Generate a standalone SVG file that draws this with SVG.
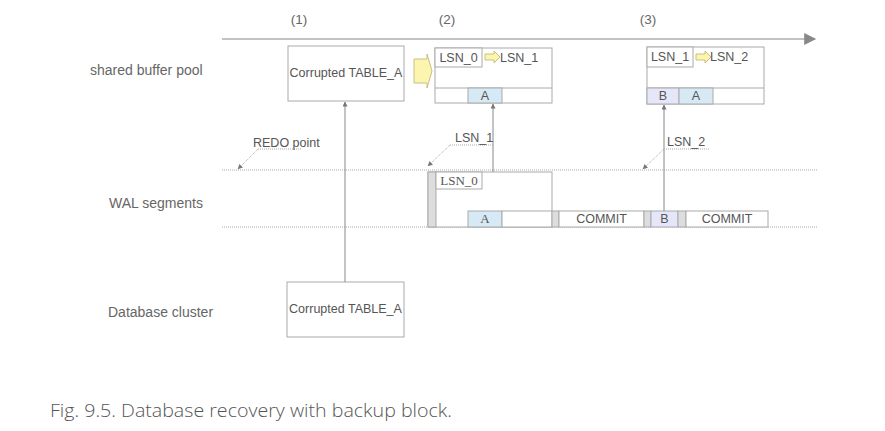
<svg xmlns="http://www.w3.org/2000/svg" width="885" height="431" viewBox="0 0 885 431">
<style>
text{font-family:"Liberation Sans",Arial,sans-serif;fill:#666}
.lbl{font-size:14px}
.num{font-size:13.5px}
.bt{font-size:12.5px;fill:#555}
.box{fill:#fff;stroke:#aaa;stroke-width:1}
.dot{stroke:#aaa;stroke-width:1;stroke-dasharray:1 1;fill:none}
.ln{stroke:#888;stroke-width:1;fill:none}
.bar{fill:#ddd;stroke:#aaa;stroke-width:1}
.blue{fill:#d6e9f5;stroke:#aaa}
.lav{fill:#e6e6fa;stroke:#aaa}
.serif{font-family:"Liberation Serif","Times New Roman",serif;font-size:13px;fill:#555}
.yarr{fill:#fbf5b0;stroke:#c8c080;stroke-width:1}
</style>
<defs>
<marker id="ah" viewBox="0 0 10 10" refX="9" refY="5" markerWidth="5" markerHeight="5" orient="auto-start-reverse">
<path d="M0,0 L10,5 L0,10 z" fill="#777"/>
</marker>
<marker id="ahBig" viewBox="0 0 10 10" refX="9" refY="5" markerWidth="16" markerHeight="12" markerUnits="userSpaceOnUse" orient="auto">
<path d="M0,0 L10,5 L0,10 z" fill="#888"/>
</marker>
</defs>

<g id="timeline">
<line x1="222" y1="39" x2="815" y2="39" stroke="#888" stroke-width="1.2" marker-end="url(#ahBig)"/>
<text class="num" x="299" y="24" text-anchor="middle">(1)</text>
<text class="num" x="447" y="24" text-anchor="middle">(2)</text>
<text class="num" x="648" y="24" text-anchor="middle">(3)</text>
</g>

<g id="row-labels">
<text class="lbl" x="90" y="75">shared buffer pool</text>
<text class="lbl" x="109" y="208">WAL segments</text>
<text class="lbl" x="108" y="317">Database cluster</text>
</g>

<g id="wal-lines">
<line class="dot" x1="222" y1="170" x2="817" y2="170"/>
<line class="dot" x1="222" y1="227" x2="817" y2="227"/>
</g>

<g id="buf1">
<rect class="box" x="288" y="46" width="116" height="55"/>
<text class="bt" x="346" y="77" text-anchor="middle">Corrupted TABLE_A</text>
</g>

<g id="big-arrow">
<path class="yarr" d="M414,59 L427,59 L427,54 L432,71 L427,88 L427,83 L414,83 z"/>
</g>

<g id="buf2">
<rect class="box" x="435" y="48" width="117" height="55"/>
<rect class="box" x="435" y="48" width="47" height="19"/>
<text class="bt" x="458.5" y="62" text-anchor="middle">LSN_0</text>
<path class="yarr" d="M485,54 L494,54 L494,51 L500,57 L494,63 L494,60 L485,60 z"/>
<text class="bt" x="500" y="62">LSN_1</text>
<line x1="435" y1="88" x2="552" y2="88" stroke="#aaa"/>
<rect class="blue" x="468" y="88" width="34" height="15"/>
<text class="bt" x="485" y="100" text-anchor="middle">A</text>
</g>

<g id="buf3">
<rect class="box" x="647" y="47" width="117" height="57"/>
<rect class="box" x="647" y="47" width="46" height="20"/>
<text class="bt" x="670" y="61" text-anchor="middle">LSN_1</text>
<path class="yarr" d="M696,54 L705,54 L705,51 L711,57 L705,63 L705,60 L696,60 z"/>
<text class="bt" x="710" y="61">LSN_2</text>
<line x1="647" y1="88" x2="764" y2="88" stroke="#aaa"/>
<rect class="lav" x="647" y="88" width="32" height="16"/>
<text class="bt" x="663" y="100" text-anchor="middle">B</text>
<rect class="blue" x="679" y="88" width="34" height="16"/>
<text class="bt" x="696" y="100" text-anchor="middle">A</text>
</g>

<g id="wal-records">
<rect class="box" x="428" y="172" width="124" height="55"/>
<rect class="bar" x="428" y="172" width="8" height="55"/>
<rect class="box" x="436" y="172" width="46" height="17"/>
<text class="serif" x="459" y="185" text-anchor="middle">LSN_0</text>
<rect class="blue" x="468" y="211" width="34" height="16"/>
<text class="serif" x="485" y="223" text-anchor="middle">A</text>
<rect class="box" x="502" y="211" width="50" height="16"/>
<rect class="bar" x="552" y="211" width="7" height="16"/>
<rect class="box" x="559" y="211" width="85" height="16"/>
<text class="bt" x="601.5" y="223" text-anchor="middle">COMMIT</text>
<rect class="bar" x="644" y="211" width="7" height="16"/>
<rect class="lav" x="651" y="211" width="27" height="16"/>
<text class="bt" x="664.5" y="223" text-anchor="middle">B</text>
<rect class="bar" x="678" y="211" width="8" height="16"/>
<rect class="box" x="686" y="211" width="82" height="16"/>
<text class="bt" x="727" y="223" text-anchor="middle">COMMIT</text>
</g>

<g id="db">
<rect class="box" x="287" y="282" width="117" height="55"/>
<text class="bt" x="345.5" y="313" text-anchor="middle">Corrupted TABLE_A</text>
</g>

<g id="connectors">
<line class="ln" x1="345" y1="282" x2="345" y2="102" marker-end="url(#ah)"/>
<line class="ln" x1="493" y1="172" x2="493" y2="104" marker-end="url(#ah)"/>
<line class="ln" x1="664" y1="211" x2="664" y2="105" marker-end="url(#ah)"/>
<line class="dot" x1="258" y1="149" x2="302" y2="149"/>
<line class="dot" x1="258" y1="149" x2="238" y2="169" marker-end="url(#ah)"/>
<line class="dot" x1="450" y1="145" x2="493" y2="145"/>
<line class="dot" x1="450" y1="145" x2="428" y2="166" marker-end="url(#ah)"/>
<line class="dot" x1="664" y1="149" x2="709" y2="149"/>
<line class="dot" x1="664" y1="149" x2="643" y2="169" marker-end="url(#ah)"/>
</g>

<g id="leader-labels">
<text class="bt" x="253" y="147">REDO point</text>
<text class="bt" x="455" y="142">LSN_1</text>
<text class="bt" x="667" y="146">LSN_2</text>
</g>

<text x="50" y="417" textLength="402" lengthAdjust="spacingAndGlyphs" style="font-family:'Open Sans',Lato,sans-serif;font-weight:300;font-size:18px;fill:#555">Fig. 9.5. Database recovery with backup block.</text>
</svg>
